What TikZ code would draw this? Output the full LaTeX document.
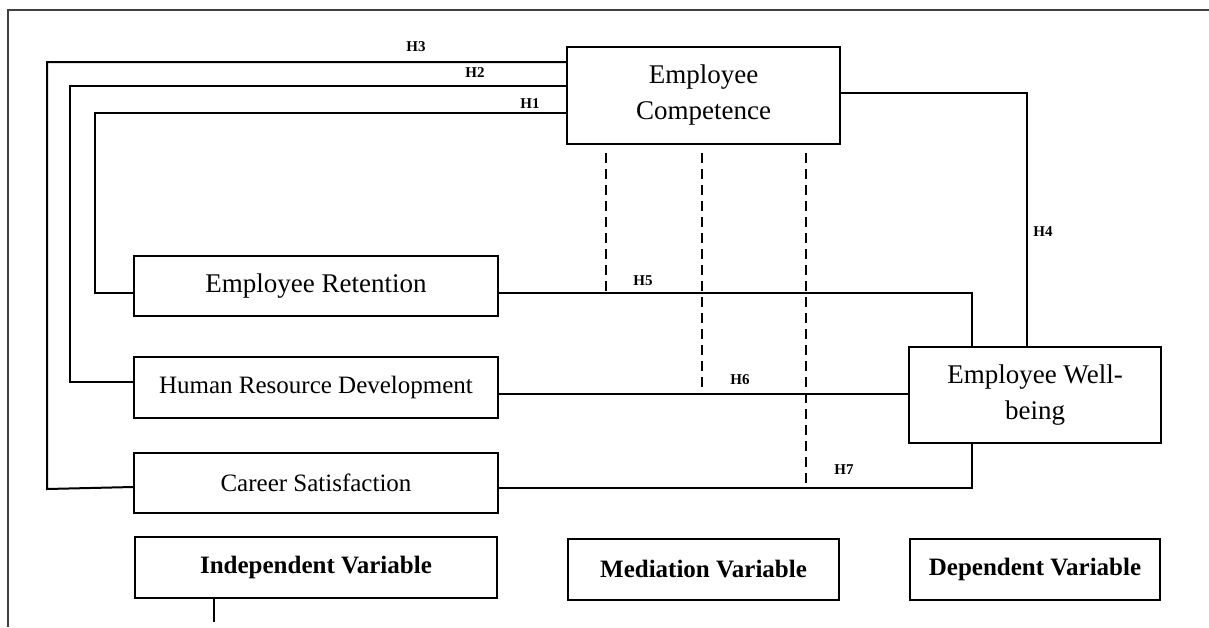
\documentclass[tikz,border=0pt]{standalone}
\usepackage{fontspec}
\setmainfont{Liberation Serif}
\begin{document}
\begin{tikzpicture}[x=1pt,y=-1pt,
  varbox/.style={draw=black, line width=2.3pt, inner sep=0pt, align=center, anchor=center},
  bigtxt/.style={font=\fontsize{27}{36}\selectfont},
  midtxt/.style={font=\fontsize{25}{30}\selectfont},
  legtxt/.style={font=\fontsize{25}{30}\selectfont\bfseries},
  conn/.style={draw=black, line width=2pt},
  dashconn/.style={draw=black, line width=2pt, dash pattern=on 10pt off 6pt},
  hlab/.style={font=\fontsize{15}{18}\selectfont\bfseries, inner sep=0pt, anchor=center},
  frameline/.style={draw=black!75, line width=1.5pt}]
\useasboundingbox (0,0) rectangle (1209,627);
% outer frame
\draw[frameline] (8,627) -- (8,10) -- (1209,10);
% nodes
\node[varbox, bigtxt, minimum width=273pt, minimum height=97pt] (ec) at (703.5,95.5) {Employee\\Competence};
\node[varbox, bigtxt, minimum width=364pt, minimum height=60pt] (er) at (316,286) {Employee Retention};
\node[varbox, midtxt, minimum width=364pt, minimum height=61pt] (hrd) at (316,387.5) {Human Resource Development};
\node[varbox, midtxt, minimum width=364pt, minimum height=60pt] (cs) at (316,483) {Career Satisfaction};
\node[varbox, bigtxt, minimum width=252pt, minimum height=96pt] (wb) at (1035,395) {Employee Well-\\being};
\node[varbox, legtxt, minimum width=362pt, minimum height=61pt] (iv) at (316,567.5) {Independent Variable};
\node[varbox, legtxt, minimum width=271pt, minimum height=61pt] (mv) at (703.5,569.5) {Mediation Variable};
\node[varbox, legtxt, minimum width=250pt, minimum height=61pt] (dv) at (1035,569.5) {Dependent Variable};
% corner coordinates
\coordinate (c1) at (95,293);
\coordinate (c2) at (70,382);
\coordinate (c3) at (47,489);
\coordinate (c4) at (1027,93);
\coordinate (c5) at (972,293);
\coordinate (c7) at (972,488);
\coordinate (d1) at (606,153);
\coordinate (d2) at (702,153);
\coordinate (d3) at (806,153);
\coordinate (tick) at (214,622);
% connectors
\draw[conn] (ec.west |- 0,113) -- (c1 |- 0,113) -- (c1) -- (er.west |- c1);
\draw[conn] (ec.west |- 0,86) -- (c2 |- 0,86) -- (c2) -- (hrd.west |- c2);
\draw[conn] (ec.west |- 0,62) -- (c3 |- 0,62) -- (c3) -- (cs.west |- 0,487);
\draw[conn] (ec.east |- c4) -- (c4) -- (wb.north -| c4);
\draw[conn] (er.east |- c5) -- (c5) -- (wb.north -| c5);
\draw[conn] (hrd.east |- 0,394) -- (wb.west |- 0,394);
\draw[conn] (cs.east |- c7) -- (c7) -- (wb.south -| c7);
\draw[dashconn] (d1) -- (d1 |- c5);
\draw[dashconn] (d2) -- (d2 |- 0,394);
\draw[dashconn] (d3) -- (d3 |- c7);
\draw[conn] (iv.south -| tick) -- (tick);
% labels
\node[hlab] (h3) at (416,47) {H3};
\node[hlab] (h2) at (475,73) {H2};
\node[hlab] (h1) at (530,104) {H1};
\node[hlab] (h4) at (1043,232) {H4};
\node[hlab] (h5) at (643,281) {H5};
\node[hlab] (h6) at (740,380) {H6};
\node[hlab] (h7) at (844,470) {H7};
\end{tikzpicture}
\end{document}
